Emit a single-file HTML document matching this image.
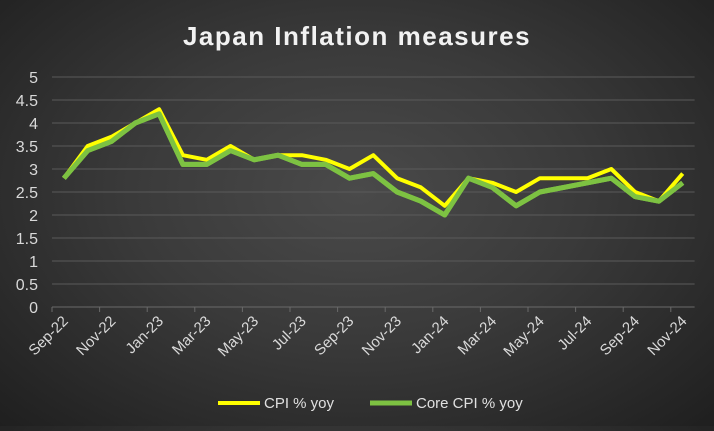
<!DOCTYPE html>
<html><head><meta charset="utf-8"><style>
html,body{margin:0;padding:0;}
body{width:714px;height:426px;overflow:hidden;background:radial-gradient(ellipse at 50% 45%,#4a4a4a 0%,#3a3a3a 45%,#1f1f1f 100%);font-family:"Liberation Sans",sans-serif;}
</style></head><body>
<svg width="714" height="426" xmlns="http://www.w3.org/2000/svg" font-family="Liberation Sans, sans-serif">
<text x="357" y="45" text-anchor="middle" fill="#f2f2f2" font-size="26" font-weight="bold" letter-spacing="1.5">Japan Inflation measures</text>
<g id="grid"></g>
<g id="ax"></g>
<polyline id="core" fill="none" stroke="#7dc242" stroke-width="5" stroke-linejoin="round"/>
<polyline id="cpi" fill="none" stroke="#ffff00" stroke-width="4" stroke-linejoin="round"/>
<polyline id="core2" fill="none" stroke="#7dc242" stroke-width="5" stroke-linejoin="round"/>
<line x1="218" y1="403" x2="260" y2="403" stroke="#ffff00" stroke-width="4"/>
<text x="264" y="408" fill="#e0e0e0" font-size="15">CPI % yoy</text>
<line x1="370" y1="403" x2="412" y2="403" stroke="#7dc242" stroke-width="5"/>
<text x="416" y="408" fill="#e0e0e0" font-size="15">Core CPI % yoy</text>
</svg>
<script>
var ns="http://www.w3.org/2000/svg",s=document.querySelector("svg");
function el(t,a,p,txt){var e=document.createElementNS(ns,t);for(var k in a)e.setAttribute(k,a[k]);if(txt!=null)e.textContent=txt;(p||s).appendChild(e);return e;}
var g=document.getElementById("grid"),ax=document.getElementById("ax");
var L=52,R=694.6,Y0=307,U=46,st=23.8;
for(var i=0;i<=10;i++){var v=i/2,y=Y0-v*U;
el("line",{x1:L,x2:R,y1:y,y2:y,stroke:i==0?"#6a6a6a":"#5a5a5a","stroke-width":1},g);
el("text",{x:38,y:y+6,"text-anchor":"end",fill:"#d9d9d9","font-size":16},ax,String(v));}
for(var i=0;i<=13;i++){var x=L+i*2*st;el("line",{x1:x,x2:x,y1:Y0,y2:Y0+5,stroke:"#6a6a6a"},ax);}
var labs=["Sep-22","Nov-22","Jan-23","Mar-23","May-23","Jul-23","Sep-23","Nov-23","Jan-24","Mar-24","May-24","Jul-24","Sep-24","Nov-24"];
labs.forEach(function(t,j){var x=L+st/2+j*2*st+5,y=Y0+15;
el("text",{x:x,y:y,"text-anchor":"end",fill:"#d9d9d9","font-size":15,transform:"rotate(-45 "+x+" "+y+")"},ax,t);});
var cpi=[2.8,3.5,3.7,4.0,4.3,3.3,3.2,3.5,3.2,3.3,3.3,3.2,3.0,3.3,2.8,2.6,2.2,2.8,2.7,2.5,2.8,2.8,2.8,3.0,2.5,2.3,2.9];
var core=[2.8,3.4,3.6,4.0,4.2,3.1,3.1,3.4,3.2,3.3,3.1,3.1,2.8,2.9,2.5,2.3,2.0,2.8,2.6,2.2,2.5,2.6,2.7,2.8,2.4,2.3,2.7];
function pts(a){return a.map(function(v,i){return (L+st/2+i*st).toFixed(1)+","+(Y0-v*U).toFixed(1)}).join(" ");}
document.getElementById("core").setAttribute("points",pts(core));
document.getElementById("cpi").setAttribute("points",pts(cpi));
document.getElementById("core2").setAttribute("points",pts(core));
</script>
</body></html>
